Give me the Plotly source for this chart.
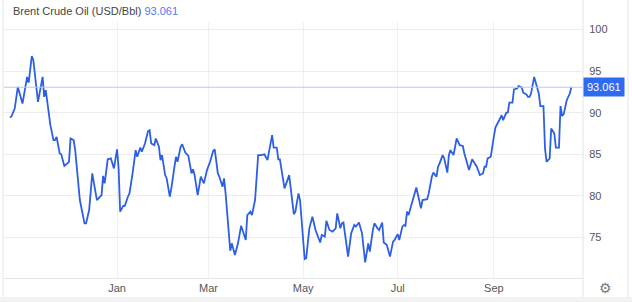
import plotly.graph_objects as go

title_text = "Brent Crude Oil (USD/Bbl)"
last_value = 93.061

dates = [
    "2022-10-24", "2022-10-25", "2022-10-27", "2022-10-29",
    "2022-11-01", "2022-11-04", "2022-11-05", "2022-11-07", "2022-11-08", "2022-11-11", "2022-11-14",
    "2022-11-15", "2022-11-16", "2022-11-19", "2022-11-21", "2022-11-22", "2022-11-23", "2022-11-25",
    "2022-11-26", "2022-11-28", "2022-11-30",
    "2022-12-01", "2022-12-02", "2022-12-04", "2022-12-05", "2022-12-08", "2022-12-11", "2022-12-12",
    "2022-12-14", "2022-12-16", "2022-12-19", "2022-12-22", "2022-12-23", "2022-12-24", "2022-12-26",
    "2022-12-28", "2022-12-30",
    "2023-01-01", "2023-01-02", "2023-01-03", "2023-01-05", "2023-01-06", "2023-01-08", "2023-01-09",
    "2023-01-11", "2023-01-13", "2023-01-14", "2023-01-16", "2023-01-17", "2023-01-19", "2023-01-21",
    "2023-01-22", "2023-01-23", "2023-01-25", "2023-01-26", "2023-01-28", "2023-01-29", "2023-01-30",
    "2023-02-01", "2023-02-02", "2023-02-04", "2023-02-05", "2023-02-07", "2023-02-08", "2023-02-09",
    "2023-02-11", "2023-02-12", "2023-02-14", "2023-02-16", "2023-02-18", "2023-02-19", "2023-02-20",
    "2023-02-22", "2023-02-24", "2023-02-26", "2023-02-28",
    "2023-03-02", "2023-03-04", "2023-03-05", "2023-03-07", "2023-03-08", "2023-03-10", "2023-03-11",
    "2023-03-12", "2023-03-15", "2023-03-16", "2023-03-18", "2023-03-20", "2023-03-22", "2023-03-25",
    "2023-03-26", "2023-03-28", "2023-03-29", "2023-03-31",
    "2023-04-02", "2023-04-04", "2023-04-06", "2023-04-08", "2023-04-11", "2023-04-12", "2023-04-14",
    "2023-04-15", "2023-04-16", "2023-04-19", "2023-04-22", "2023-04-25", "2023-04-26", "2023-04-28",
    "2023-04-29",
    "2023-05-02", "2023-05-03", "2023-05-05", "2023-05-07", "2023-05-09", "2023-05-12", "2023-05-13",
    "2023-05-15", "2023-05-16", "2023-05-18", "2023-05-20", "2023-05-22", "2023-05-23", "2023-05-25",
    "2023-05-26", "2023-05-27", "2023-05-29", "2023-05-30",
    "2023-06-01", "2023-06-03", "2023-06-04", "2023-06-06", "2023-06-08", "2023-06-10", "2023-06-12",
    "2023-06-13", "2023-06-15", "2023-06-16", "2023-06-18", "2023-06-19", "2023-06-21", "2023-06-22",
    "2023-06-24", "2023-06-26", "2023-06-28", "2023-06-29",
    "2023-07-01", "2023-07-02", "2023-07-04", "2023-07-05", "2023-07-06", "2023-07-07", "2023-07-08",
    "2023-07-10", "2023-07-13", "2023-07-16", "2023-07-17", "2023-07-20", "2023-07-21", "2023-07-23",
    "2023-07-24", "2023-07-26", "2023-07-27", "2023-07-28", "2023-07-30", "2023-07-31",
    "2023-08-02", "2023-08-03", "2023-08-04", "2023-08-06", "2023-08-07", "2023-08-08", "2023-08-10",
    "2023-08-12", "2023-08-13", "2023-08-16", "2023-08-18", "2023-08-20", "2023-08-21", "2023-08-23",
    "2023-08-25", "2023-08-26", "2023-08-27", "2023-08-28", "2023-08-30",
    "2023-09-01", "2023-09-02", "2023-09-05", "2023-09-06", "2023-09-07", "2023-09-09", "2023-09-10",
    "2023-09-11", "2023-09-13", "2023-09-14", "2023-09-16", "2023-09-17", "2023-09-19", "2023-09-20",
    "2023-09-22", "2023-09-23", "2023-09-24", "2023-09-25", "2023-09-27", "2023-09-29", "2023-09-30",
    "2023-10-01", "2023-10-03", "2023-10-04", "2023-10-05", "2023-10-07", "2023-10-08", "2023-10-10",
    "2023-10-11", "2023-10-13", "2023-10-14", "2023-10-15", "2023-10-16", "2023-10-18", "2023-10-20",
    "2023-10-21",
]

prices = [
    89.4, 89.6, 90.5, 93.1,
    91.1, 94.3, 93.6, 96.8, 96.3, 91.3, 94.3,
    91.9, 92.7, 88.5, 86.7, 86.7, 87.1, 85.1,
    85.0, 83.6, 83.9,
    84.1, 86.9, 86.7, 85.5, 79.5, 76.7, 76.7,
    78.3, 82.7, 79.5, 80.1, 82.4, 81.5, 84.4,
    84.5, 83.3,
    85.6, 83.3, 78.1, 78.8, 78.8, 79.9, 80.3,
    82.7, 85.5, 84.7, 85.8, 85.3, 86.3, 87.8,
    87.9, 86.3, 86.1, 86.9, 85.9, 84.3, 84.9,
    82.5, 82.1, 79.9, 80.9, 83.5, 84.7, 84.1,
    85.9, 86.2, 85.2, 84.8, 82.7, 83.2, 82.5,
    80.1, 82.3, 81.5, 83.1,
    84.1, 85.4, 85.6, 82.7, 82.3, 81.1, 82.1,
    80.3, 73.4, 74.3, 72.9, 74.3, 76.4, 74.7,
    77.7, 78.1, 77.7, 79.5,
    84.9, 84.9, 85.0, 84.3, 87.3, 85.8, 85.8,
    84.4, 84.4, 80.9, 82.5, 77.8, 78.1, 80.3,
    79.5,
    72.4, 72.5, 76.1, 77.5, 75.9, 74.4, 75.3,
    75.1, 77.0, 75.9, 75.7, 76.1, 77.9, 76.1,
    76.7, 76.8, 73.7, 72.7,
    75.5, 76.5, 76.3, 76.8, 75.5, 72.0, 74.3,
    73.3, 75.9, 76.7, 76.1, 75.9, 76.8, 74.4,
    74.1, 72.7, 74.5, 74.7,
    75.4, 74.7, 76.3, 76.5, 76.4, 78.1, 77.7,
    79.1, 81.0, 78.5, 79.5, 79.6, 80.3, 82.3,
    82.8, 82.3, 83.5, 83.9, 84.9, 84.5,
    82.8, 84.9, 85.5, 84.9, 85.9, 86.9, 86.1,
    86.0, 85.1, 83.1, 84.4, 83.9, 83.5, 82.5,
    82.7, 83.5, 83.5, 84.5, 84.7,
    87.1, 88.2, 89.3, 89.7, 89.1, 90.0, 90.0,
    91.2, 91.2, 92.8, 92.9, 93.2, 93.0, 92.4,
    92.2, 91.9, 91.9, 92.3, 94.3, 93.1, 92.3,
    90.8, 90.8, 85.7, 84.1, 84.5, 88.1, 87.5,
    85.8, 85.8, 90.8, 89.6, 89.8, 91.5, 92.3,
    last_value,
]

y_ticks = [75, 80, 85, 90, 95, 100]
x_tick_dates = ["2023-01-01", "2023-03-01", "2023-05-01", "2023-07-01", "2023-09-01"]
x_tick_labels = ["Jan", "Mar", "May", "Jul", "Sep"]

FONT = "Liberation Sans, Arial, sans-serif"
LINE_BLUE = "#2d5fe6"
GRID = "#ececec"

fig = go.Figure()
fig.add_trace(go.Scatter(
    x=dates, y=prices, mode="lines",
    line=dict(color=LINE_BLUE, width=1.8),
    hoverinfo="skip", showlegend=False,
))

fig.update_layout(
    width=632, height=302,
    margin=dict(l=4, r=49, t=22, b=24),
    paper_bgcolor="white", plot_bgcolor="white",
    font=dict(family=FONT, size=11, color="#555"),
    xaxis=dict(
        type="date",
        range=["2022-10-20 02:00", "2023-10-28 12:00"],
        tickvals=x_tick_dates, ticktext=x_tick_labels,
        showgrid=True, gridcolor="#f0f0f3", gridwidth=1,
        showline=True, linecolor="#e4e4e4", linewidth=1,
        ticks="", zeroline=False,
        tickfont=dict(size=11, color="#555"),
    ),
    yaxis=dict(
        side="right",
        range=[70.13, 100.9],
        tickvals=y_ticks,
        showgrid=True, gridcolor=GRID, gridwidth=1,
        showline=False, zeroline=False,
        ticks="outside", ticklen=3, tickcolor="rgba(0,0,0,0)",
        tickfont=dict(size=11, color="#555"),
    ),
    shapes=[
        dict(type="line", xref="paper", yref="y", x0=0, x1=1, y0=last_value, y1=last_value,
             line=dict(color="#b8c8f4", width=1)),
        dict(type="line", xref="paper", yref="paper", x0=1, x1=1, y0=-0.094, y1=1.09,
             line=dict(color="#e4e4e4", width=1)),
        dict(type="line", xref="paper", yref="paper", x0=-0.0017, x1=-0.0017, y0=-0.094, y1=1.09,
             line=dict(color="#e4e4e4", width=1)),
        dict(type="line", xref="paper", yref="paper", x0=1.0777, x1=1.0777, y0=-0.094, y1=1.09,
             line=dict(color="#e4e4e4", width=1)),
        dict(type="rect", xref="paper", yref="paper", x0=-0.01, x1=1.09, y0=-0.095, y1=-0.074,
             fillcolor="#f2f2f2", line=dict(width=0)),
    ],
    annotations=[
        dict(xref="paper", yref="paper", x=0.012, y=1.043, xanchor="left", yanchor="middle",
             showarrow=False,
             text=title_text + " <span style='color:#5577ee'>" + f"{last_value:.3f}" + "</span>",
             font=dict(family=FONT, size=11, color="#444")),
        dict(xref="paper", yref="y", x=1.0, y=last_value, xanchor="left", yanchor="middle",
             showarrow=False, text=f"{last_value:.3f}",
             bgcolor="#2e6bf0", borderpad=3,
             font=dict(family=FONT, size=11, color="white")),
        dict(xref="paper", yref="paper", x=1.038, y=-0.039, xanchor="center", yanchor="middle",
             showarrow=False, text="⚙", font=dict(family="DejaVu Sans", size=14, color="#777")),
    ],
)

fig.write_html("out.html")
